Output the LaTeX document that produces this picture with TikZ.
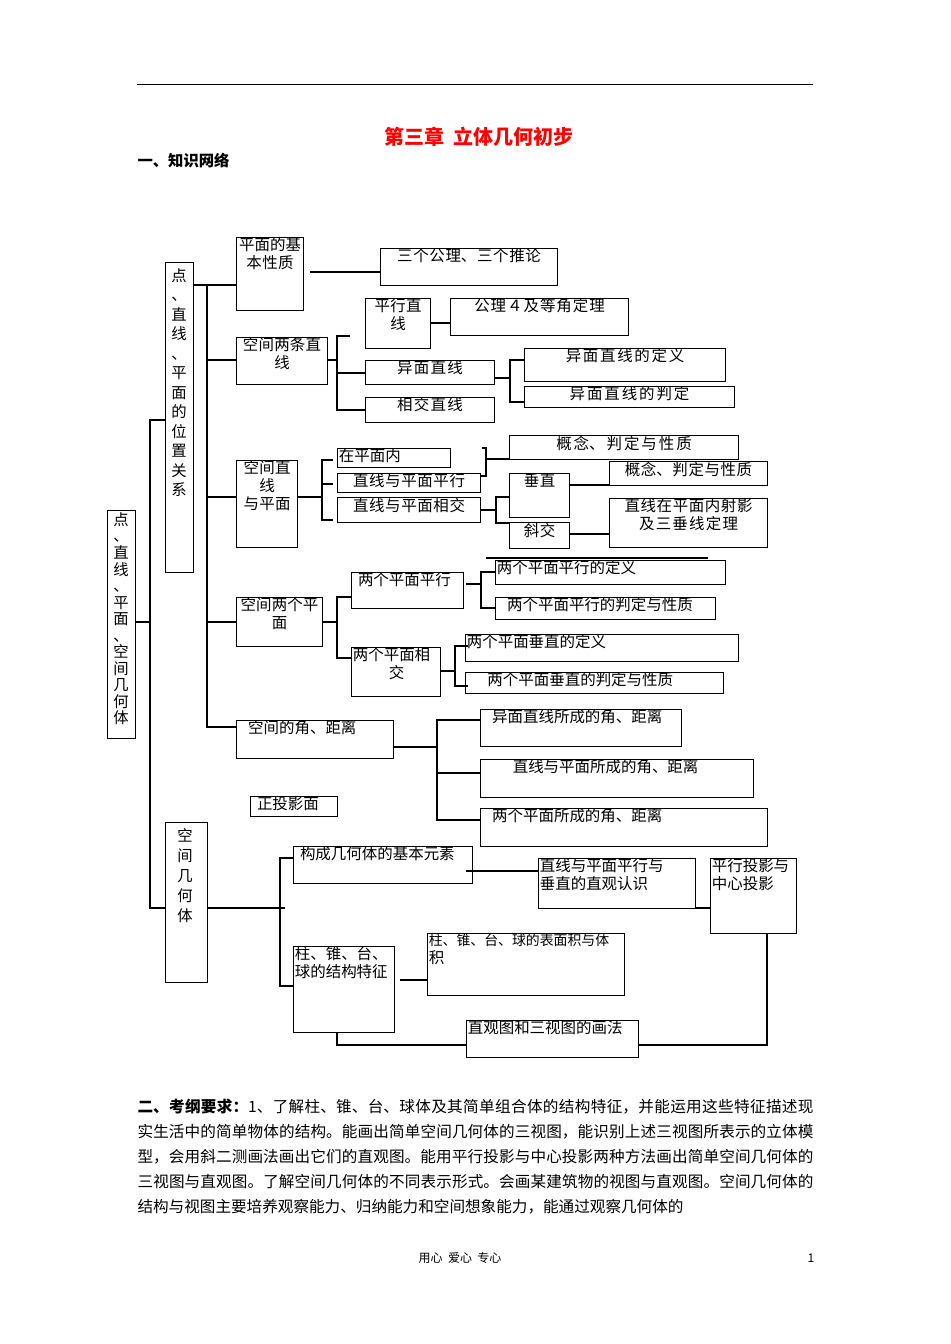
\documentclass[tikz,border=0pt]{standalone}
\usepackage{fontspec}
\setmainfont{Noto Sans CJK SC}
\XeTeXlinebreaklocale "zh"
\XeTeXlinebreakskip=0pt plus 1pt
\usetikzlibrary{calc}
\newcommand\bxx[7][center]{%
 \node[draw,thick,inner sep=0,minimum width={(#5-#3)*0.75pt},minimum height={(#6-#4)*0.75pt},anchor=north west] (#2) at (#3,#4) {};
 \node[anchor=north,align=#1,text width={(#5-#3)*0.75pt-2pt},inner sep=1pt,font=\fontsize{11.6}{13.5}\selectfont] at ($(#2.north)+(0,-1)$) {#7};}
\begin{document}
\begin{tikzpicture}[x=0.75pt,y=-0.75pt,line width=0.8pt]
\useasboundingbox (0,0) rectangle (950,1344);
\tikzset{vt/.style={align=center,inner sep=0}}
\draw[line width=0.6pt] (137,84) -- (813,84);
\node[text=red,font=\fontsize{15}{18}\selectfont\bfseries] at (479,137) {第三章\ \ 立体几何初步};
\node[anchor=west,inner sep=0,font=\fontsize{11.5}{13}\selectfont\bfseries] at (137,161) {一、知识网络};
% left vertical boxes
\bxx{L}{107}{510}{135}{738}{}
\node[vt,anchor=north,font=\fontsize{11.5}{12.4}\selectfont] at (121,512) {点\\、\\直\\线\\、\\平\\面\\、\\空\\间\\几\\何\\体};
\bxx{P}{165}{262}{193}{572}{}
\node[vt,anchor=north,font=\fontsize{11.5}{14.6}\selectfont] at (179,268) {点\\、\\直\\线\\、\\平\\面\\的\\位\\置\\关\\系};
\bxx{G}{165}{822}{207}{982}{}
\node[vt,anchor=north,font=\fontsize{11.5}{15}\selectfont] at (185,828) {空\\间\\几\\何\\体};
\draw (135,622) -- (150,622);
\draw (165,420) -- (150,420) -- (150,908) -- (165,908);
% level 2
\bxx{A1}{236}{237}{303}{310}{平面的基\\本性质}
\bxx{A2}{236}{337}{327}{384}{空间两条直\\线}
\bxx{A3}{236}{460}{297}{547}{空间直\\线\\与平面}
\bxx{A4}{236}{597}{322}{646}{空间两个平\\面}
\bxx[left]{A5}{236}{720}{393}{758}{\ \ 空间的角、距离}
\draw (193,285) -- (207,285) -- (207,727) -- (236,727);
\draw (207,285) -- (236,285);
\draw (207,360) -- (236,360);
\draw (207,497) -- (236,497);
\draw (207,622) -- (236,622);
% A1
\bxx{B1}{380}{248}{557}{285}{三个公理、三个推论}
\draw (310,272) -- (380,272);
% A2
\bxx{B2}{365}{298}{430}{348}{平行直\\线}
\bxx{B3}{365}{360}{494}{384}{异面直线}
\bxx{B4}{365}{397}{494}{422}{相交直线}
\draw (327,360) -- (337,360);
\draw (350,336) -- (337,336) -- (337,410) -- (365,410);
\draw (337,373) -- (365,373);
\bxx{B5}{450}{298}{628}{335}{公理４及等角定理}
\draw (430,323) -- (450,323);
\bxx{B6}{524}{348}{725}{381}{异面直线的定义}
\bxx{B7}{524}{386}{734}{407}{异面直线的判定}
\draw (494,378) -- (510,378);
\draw (524,360) -- (510,360) -- (510,402) -- (524,402);
% A3
\draw (297,497) -- (322,497);
\draw (333,460) -- (322,460) -- (322,520) -- (333,520);
\draw (322,484) -- (333,484);
\bxx[left]{C1}{337}{448}{450}{467}{在平面内}
\bxx{C2}{337}{473}{480}{492}{直线与平面平行}
\bxx{C3}{337}{497}{480}{522}{直线与平面相交}
\bxx{C4}{509}{435}{738}{459}{概念、判定与性质}
\draw (480,476) -- (486,476) -- (486,448) -- (482,448);
\draw (486,459) -- (509,459);
\draw (480,510) -- (496,510);
\draw (509,497) -- (496,497) -- (496,523) -- (509,523);
\bxx{C5}{509}{473}{569}{517}{垂直}
\bxx{C6}{509}{522}{569}{548}{斜交}
\bxx{C7}{609}{461}{767}{485}{概念、判定与性质}
\draw (569,485) -- (609,485);
\bxx{C8}{609}{498}{767}{547}{直线在平面内射影\\及三垂线定理}
\draw (569,534) -- (609,534);
\draw (486,558) -- (708,558);
% A4
\draw (322,622) -- (337,622);
\draw (351,597) -- (337,597) -- (337,658) -- (351,658);
\bxx[left]{D1}{351}{572}{463}{608}{\ 两个平面平行}
\bxx[left]{D2}{351}{647}{440}{696}{两个平面相\\\ \ \ \ \ \ \ 交}
\bxx[left]{D3}{495}{560}{725}{584}{两个平面平行的定义}
\bxx[left]{D4}{495}{597}{715}{619}{\ \ 两个平面平行的判定与性质}
\draw (466,584) -- (481,584);
\draw (495,572) -- (481,572) -- (481,608) -- (495,608);
\bxx[left]{D5}{465}{634}{738}{661}{两个平面垂直的定义}
\bxx[left]{D6}{465}{672}{723}{693}{\ \ \ \ 两个平面垂直的判定与性质}
\draw (440,671) -- (455,671);
\draw (468,646) -- (455,646) -- (455,686) -- (468,686);
% A5
\draw (393,747) -- (437,747);
\draw (480,720) -- (437,720) -- (437,820) -- (480,820);
\draw (437,773) -- (480,773);
\bxx[left]{E1}{480}{709}{681}{746}{\ \ 异面直线所成的角、距离}
\bxx[left]{E2}{480}{759}{753}{797}{\ \ \ \ \ \ 直线与平面所成的角、距离}
\bxx[left]{E3}{480}{808}{767}{846}{\ \ 两个平面所成的角、距离}
\bxx[left]{E4}{250}{796}{337}{816}{\ 正投影面}
% G
\draw (207,908) -- (285,908);
\draw (293,858) -- (280,858) -- (280,986) -- (293,986);
\bxx[left]{F1}{293}{846}{472}{883}{\ 构成几何体的基本元素}
\bxx[left]{F2}{293}{946}{394}{1032}{柱、锥、台、\\球的结构特征}
\bxx[left]{F3}{538}{858}{695}{908}{直线与平面平行与\\垂直的直观认识}
\bxx[left]{F4}{710}{858}{796}{933}{平行投影与\\中心投影}
\bxx[left]{F5}{427}{933}{624}{995}{{\fontsize{10.4}{13.5}\selectfont 柱、锥、台、球的表面积与体}\\积}
\bxx[left]{F6}{466}{1020}{638}{1057}{直观图和三视图的画法}
\draw (466,871) -- (538,871);
\draw (695,908) -- (710,908);
\draw (400,980) -- (427,980);
\draw (337,1032) -- (337,1045) -- (466,1045);
\draw (638,1045) -- (767,1045) -- (767,933);
% text
\node[anchor=north west,inner sep=0,text width=507pt,align=justify,font=\fontsize{11.7}{18.75}\selectfont] at (137,1098) {\textbf{二、考纲要求：}1、了解柱、锥、台、球体及其简单组合体的结构特征，并能运用这些特征描述现实生活中的简单物体的结构。能画出简单空间几何体的三视图，能识别上述三视图所表示的立体模型，会用斜二测画法画出它们的直观图。能用平行投影与中心投影两种方法画出简单空间几何体的三视图与直观图。了解空间几何体的不同表示形式。会画某建筑物的视图与直观图。空间几何体的结构与视图主要培养观察能力、归纳能力和空间想象能力，能通过观察几何体的};
\node[font=\fontsize{9}{11}\selectfont] at (460,1258) {用心\ \ 爱心\ \ 专心};
\node[font=\fontsize{9}{11}\selectfont] at (811,1258) {1};
\end{tikzpicture}
\end{document}
